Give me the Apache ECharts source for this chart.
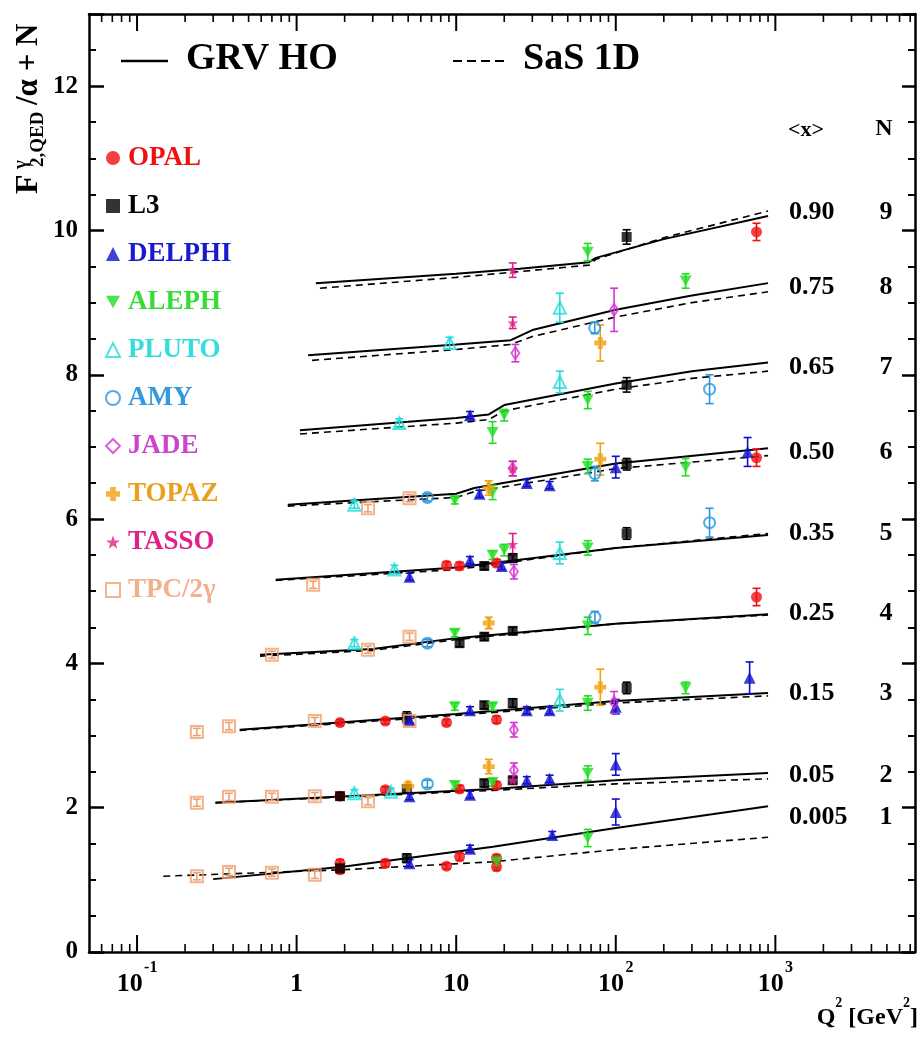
<!DOCTYPE html>
<html><head><meta charset="utf-8">
<script src="https://cdn.jsdelivr.net/npm/echarts@6/dist/echarts.min.js"></script>
<style>html,body{margin:0;padding:0;background:#fff}#c{width:923px;height:1039px}</style>
</head><body><div id="c"></div>
<script>
const FONT = "'Liberation Serif','Times New Roman',serif";

// ---------- data ----------
const experiments = ['OPAL','L3','DELPHI','ALEPH','PLUTO','AMY','JADE','TOPAZ','TASSO','TPC/2γ'];
// [Q2, F2/alpha + N, error]
const opal = [[762,9.98,0.12],[762,6.85,0.12],[762,4.92,0.12],
  [8.7,5.36,0.05],[10.5,5.35,0.05],[17.9,5.39,0.05],
  [1.87,3.18,0.04],[3.6,3.2,0.04],[8.7,3.18,0.04],[17.9,3.22,0.05],
  [1.87,2.16,0.04],[3.6,2.25,0.04],[10.5,2.26,0.05],[17.9,2.31,0.05],
  [1.87,1.23,0.05],[1.87,1.14,0.05],[3.6,1.23,0.05],[8.7,1.19,0.04],[10.5,1.32,0.05],[17.9,1.3,0.05],[17.9,1.18,0.05]];
const l3 = [[117,9.91,0.1],[117,7.86,0.1],[117,6.76,0.08],
  [15,5.35,0.05],[22.6,5.46,0.06],[117,5.8,0.08],
  [10.5,4.28,0.05],[15,4.37,0.05],[22.6,4.45,0.05],
  [4.9,3.25,0.08],[15,3.42,0.05],[22.6,3.45,0.06],[117,3.66,0.08],
  [1.87,2.16,0.05],[4.9,2.26,0.05],[15,2.34,0.05],[22.6,2.38,0.05],
  [1.87,1.16,0.05],[4.9,1.30,0.06]];
const delphi = [[12.2,7.44,0.05],
  [14,6.35,0.05],[27.7,6.5,0.05],[38.5,6.47,0.05],[100,6.72,0.15],[670,6.93,0.2],
  [5.1,5.2,0.05],[12.2,5.43,0.05],[19.3,5.35,0.05],
  [5.1,3.22,0.05],[12.2,3.35,0.05],[27.7,3.35,0.05],[38.5,3.35,0.05],[100,3.4,0.1],[690,3.8,0.22],
  [5.1,2.16,0.05],[12.2,2.18,0.05],[27.7,2.38,0.05],[38.5,2.4,0.05],[100,2.6,0.15],
  [5.1,1.23,0.05],[12.2,1.43,0.05],[40,1.62,0.05],[100,1.94,0.18]];
const aleph = [[66.7,9.7,0.12],[274,9.3,0.1],
  [16.9,7.2,0.15],[20,7.44,0.08],[66.7,7.65,0.12],
  [9.8,6.26,0.05],[16.9,6.37,0.1],[66.7,6.73,0.1],[274,6.72,0.12],
  [16.9,5.5,0.06],[20,5.57,0.08],[66.7,5.6,0.1],
  [9.8,4.42,0.05],[66.7,4.52,0.12],
  [9.8,3.4,0.05],[16.9,3.4,0.05],[66.7,3.45,0.1],[274,3.66,0.08],
  [9.8,2.31,0.05],[16.9,2.35,0.05],[66.7,2.48,0.1],
  [17.9,1.25,0.08],[66.7,1.58,0.12]];
const pluto = [[9.1,8.44,0.08],[44.6,8.93,0.2],
  [4.4,7.33,0.06],[44.6,7.9,0.15],
  [2.3,6.2,0.05],
  [4.1,5.3,0.06],[44.6,5.53,0.15],
  [2.3,4.28,0.05],
  [44.6,3.49,0.15],
  [2.3,2.2,0.05],[3.9,2.22,0.05]];
const amy = [[73.8,8.65,0.08],[387,7.8,0.2],
  [6.6,6.3,0.05],[74,6.63,0.1],[387,5.95,0.2],
  [6.6,4.28,0.05],[74,4.64,0.08],[6.6,2.33,0.05]];
const jade = [[23.5,8.3,0.12],[97.6,8.9,0.3],[22.6,6.7,0.1],[23,5.27,0.1],
  [23,3.08,0.1],[97.6,3.46,0.15],[23,2.52,0.1]];
const topaz = [[80,8.44,0.25],[16,6.43,0.1],[80,6.83,0.22],[16,4.56,0.08],
  [80,3.67,0.25],[16,2.57,0.1],[5,2.3,0.05]];
const tasso = [[22.6,9.45,0.1],[22.6,8.72,0.08],[22.6,6.7,0.1],[22.6,5.65,0.15],[22.6,2.38,0.05]];
const tpc = [[2.8,6.15,0.05],[5.1,6.29,0.05],
  [1.27,5.09,0.05],
  [0.7,4.12,0.05],[2.8,4.19,0.05],[5.1,4.37,0.05],
  [0.237,3.05,0.05],[0.377,3.13,0.05],[1.3,3.2,0.05],[5.1,3.2,0.05],
  [0.237,2.07,0.05],[0.377,2.15,0.05],[0.7,2.15,0.05],[1.3,2.16,0.05],[2.8,2.09,0.05],
  [0.237,1.05,0.05],[0.377,1.11,0.05],[0.7,1.1,0.05],[1.3,1.07,0.05]];

// theory curves [Q2, value]
const grv9 = [[1.32,9.27],[10,9.40],[25,9.47],[68,9.56],[75,9.62],[200,9.88],[900,10.2]];
const sas9 = [[1.4,9.2],[10,9.35],[25,9.43],[68,9.52],[75,9.6],[200,9.9],[900,10.27]];
const grv8 = [[1.18,8.27],[10,8.42],[22,8.48],[30,8.62],[100,8.9],[300,9.1],[900,9.27]];
const sas8 = [[1.25,8.2],[10,8.35],[22,8.42],[30,8.53],[100,8.8],[300,9.0],[900,9.15]];
const grv7 = [[1.05,7.23],[10,7.4],[16,7.45],[20,7.58],[100,7.88],[300,8.05],[900,8.17]];
const sas7 = [[1.05,7.18],[10,7.33],[16,7.38],[20,7.5],[100,7.8],[300,7.95],[900,8.05]];
const grv6 = [[0.88,6.2],[10,6.35],[13,6.43],[100,6.77],[900,6.98]];
const sas6 = [[0.88,6.18],[10,6.3],[13,6.38],[100,6.7],[900,6.88]];
const grv5 = [[0.74,5.16],[10,5.33],[100,5.6],[900,5.78]];
const sas5 = [[0.74,5.15],[10,5.3],[100,5.6],[900,5.8]];
const grv4 = [[0.59,4.12],[3,4.2],[10,4.35],[100,4.55],[900,4.68]];
const sas4 = [[0.59,4.1],[3,4.18],[10,4.33],[100,4.55],[900,4.67]];
const grv3 = [[0.44,3.08],[10,3.3],[100,3.48],[900,3.59]];
const sas3 = [[0.44,3.07],[10,3.28],[100,3.45],[900,3.55]];
const grv2 = [[0.31,2.07],[17,2.26],[100,2.38],[900,2.48]];
const sas2 = [[0.31,2.07],[17,2.24],[100,2.33],[900,2.4]];
const grv1 = [[0.3,1.01],[1.95,1.18],[17,1.46],[100,1.72],[900,2.02]];
const sas1 = [[0.146,1.05],[1.95,1.14],[17,1.25],[100,1.42],[900,1.59]];

const xLabelsRight = ['0.90','0.75','0.65','0.50','0.35','0.25','0.15','0.05','0.005'];
const nLabelsRight = ['9','8','7','6','5','4','3','2','1'];
const majorDecades = [0.1,1,10,100,1000];
const minorMantissas = [2,3,4,5,6,7,8,9];

// ---------- styling ----------
const expData = [opal,l3,delphi,aleph,pluto,amy,jade,topaz,tasso,tpc];
const expColor = ['#ee1111','#000000','#1111cc','#22dd22','#22dddd','#2a96dc','#d633d6','#f0a010','#e0208a','#f0a070'];
const textColor = ['#ee1111','#000000','#1a1acc','#33dd33','#33dddd','#3399dd','#cc44cc','#e8a020','#dd2288','#f3b08a'];
const DOWN = 'path://M0,0 L10,0 L5,9 Z';
const CROSS = 'path://M3,0 H7 V3 H10 V7 H7 V10 H3 V7 H0 V3 H3 Z';
const STAR = 'path://M5,0 L6.2,3.6 L10,3.6 L7,5.9 L8.1,9.5 L5,7.3 L1.9,9.5 L3,5.9 L0,3.6 L3.8,3.6 Z';
const sym = [
  {symbol:'circle', size:11, open:false},
  {symbol:'rect', size:10, open:false},
  {symbol:'triangle', size:12, open:false},
  {symbol:DOWN, size:12, open:false},
  {symbol:'triangle', size:12, open:true},
  {symbol:'circle', size:11, open:true},
  {symbol:'diamond', size:[8,12], open:true},
  {symbol:CROSS, size:12, open:false},
  {symbol:STAR, size:11, open:false},
  {symbol:'rect', size:12, open:true}
];

const series = [];
const curves = [[grv9,sas9],[grv8,sas8],[grv7,sas7],[grv6,sas6],[grv5,sas5],[grv4,sas4],[grv3,sas3],[grv2,sas2],[grv1,sas1]];
curves.forEach((c,i) => {
  series.push({type:'line', name:'grv'+i, data:c[0], symbol:'none', silent:true, z:2,
    lineStyle:{color:'#000', width:2}});
  series.push({type:'line', name:'sas'+i, data:c[1], symbol:'none', silent:true, z:2,
    lineStyle:{color:'#000', width:1.6, type:[7,5]}});
});

expData.forEach((d,i) => {
  const color = expColor[i];
  series.push({type:'custom', name:experiments[i]+'_err', silent:true, z:3,
    data: d.map(p => [p[0], p[1]-p[2], p[1]+p[2]]),
    encode:{x:0, y:[1,2]},
    renderItem:(params, api) => {
      const lo = api.coord([api.value(0), api.value(1)]);
      const hi = api.coord([api.value(0), api.value(2)]);
      const cw = 4, st = {stroke:color, lineWidth:1.6};
      return {type:'group', children:[
        {type:'line', shape:{x1:lo[0],y1:lo[1],x2:hi[0],y2:hi[1]}, style:st},
        {type:'line', shape:{x1:lo[0]-cw,y1:lo[1],x2:lo[0]+cw,y2:lo[1]}, style:st},
        {type:'line', shape:{x1:hi[0]-cw,y1:hi[1],x2:hi[0]+cw,y2:hi[1]}, style:st}
      ]};
    }});
  const s = sym[i];
  series.push({type:'scatter', name:experiments[i], z:4,
    data: d.map(p => [p[0], p[1]]),
    symbol:s.symbol, symbolSize:s.size, symbolKeepAspect:true,
    itemStyle: s.open ? {color:'rgba(255,255,255,0)', borderColor:color, borderWidth:2}
                      : {color:color, borderWidth:0},
    emphasis:{disabled:true}});
});

// x axis tick marks (log minor + major) drawn through the axis scale
const tickVals = [];
[0.01,0.1,1,10,100,1000].forEach(dec => {
  minorMantissas.forEach(m => { const v = dec*m; if (v > 0.05 && v < 7500) tickVals.push([v,0]); });
});
majorDecades.forEach(v => tickVals.push([v,1]));
series.push({type:'custom', name:'xticks', silent:true, z:5, clip:false,
  data: tickVals,
  encode:{x:0},
  renderItem:(params, api) => {
    const v = api.value(0), major = api.value(1) === 1;
    const b = api.coord([v, 0]), t = api.coord([v, 13]);
    const len = major ? 17 : 8;
    const st = {stroke:'#000', lineWidth: major ? 2 : 1.6};
    return {type:'group', children:[
      {type:'line', shape:{x1:b[0],y1:b[1],x2:b[0],y2:b[1]-len}, style:st},
      {type:'line', shape:{x1:t[0],y1:t[1],x2:t[0],y2:t[1]+len}, style:st}
    ]};
  }});

const axisLineStyle = {color:'#000', width:2.5};
const labelY = [212,287,367,452,533,613,693,775,817];
const option = {
  animation:false,
  backgroundColor:'#fff',
  grid:{left:89, top:14, right:8, bottom:87, containLabel:false},
  xAxis:[
    {type:'log', logBase:10, min:0.05, max:7500, position:'bottom',
     axisLine:{show:true, onZero:false, lineStyle:axisLineStyle},
     axisTick:{show:false}, splitLine:{show:false}, minorTick:{show:false},
     axisLabel:{margin:8, color:'#000', showMinLabel:false, showMaxLabel:false,
       formatter: v => {
         const e = Math.log10(v);
         if (Math.abs(e - Math.round(e)) > 1e-6) return '';
         const r = Math.round(e);
         if (r === 0) return '{b|1}';
         if (r === 1) return '{b|10}';
         return '{b|10}{g| }{s|' + r + '}';
       },
       rich:{
         b:{fontFamily:FONT, fontWeight:'bold', fontSize:26, lineHeight:48, color:'#000'},
         g:{fontSize:5, lineHeight:48},
         s:{fontFamily:FONT, fontWeight:'bold', fontSize:16, lineHeight:16, verticalAlign:'top', color:'#000'}
       }}},
    {type:'log', logBase:10, min:0.05, max:7500, position:'top',
     axisLine:{show:true, onZero:false, lineStyle:axisLineStyle},
     axisTick:{show:false}, splitLine:{show:false}, axisLabel:{show:false}}
  ],
  yAxis:[
    {type:'value', min:0, max:13, interval:2, position:'left',
     axisLine:{show:true, onZero:false, lineStyle:axisLineStyle},
     axisTick:{show:true, inside:true, length:15, lineStyle:{color:'#000', width:2.5}},
     minorTick:{show:true, splitNumber:4, length:7, lineStyle:{color:'#000', width:2}},
     splitLine:{show:false}, minorSplitLine:{show:false},
     axisLabel:{margin:11, color:'#000', fontFamily:FONT, fontWeight:'bold', fontSize:25,
       formatter: v => (v % 2 === 0 ? String(v) : '')}},
    {type:'value', min:0, max:13, interval:2, position:'right',
     axisLine:{show:true, onZero:false, lineStyle:axisLineStyle},
     axisTick:{show:true, inside:true, length:13, lineStyle:{color:'#000', width:2.5}},
     minorTick:{show:true, splitNumber:4, length:7, lineStyle:{color:'#000', width:2}},
     splitLine:{show:false}, axisLabel:{show:false}}
  ],
  legend:{orient:'vertical', left:100, top:139, itemGap:20, itemWidth:14, itemHeight:14,
    selectedMode:false,
    textStyle:{fontFamily:FONT, fontWeight:'bold', fontSize:27, lineHeight:28, padding:[0,0,0,3]},
    data: experiments.map((n,i) => ({name:n, textStyle:{color:textColor[i]}}))},
  series: series,
  graphic: [
    // top legend for curves
    {type:'line', shape:{x1:121,y1:61,x2:168,y2:61}, style:{stroke:'#000', lineWidth:2.5}},
    {type:'text', x:186, y:59, style:{text:'GRV HO', fill:'#000', font:'bold 38px ' + FONT, verticalAlign:'middle'}},
    {type:'line', shape:{x1:453,y1:61,x2:508,y2:61}, style:{stroke:'#000', lineWidth:2, lineDash:[9,5]}},
    {type:'text', x:523, y:59, style:{text:'SaS 1D', fill:'#000', font:'bold 38px ' + FONT, verticalAlign:'middle'}},
    // right column headers
    {type:'text', x:788, y:130, style:{text:'<x>', fill:'#000', font:'bold 22px ' + FONT, verticalAlign:'middle'}},
    {type:'text', x:884, y:129, style:{text:'N', fill:'#000', font:'bold 24px ' + FONT, verticalAlign:'middle', align:'center'}},
    ...xLabelsRight.map((t,i) => ({type:'text', x:789, y:labelY[i],
      style:{text:t, fill:'#000', font:'bold 26px ' + FONT, verticalAlign:'middle'}})),
    ...nLabelsRight.map((t,i) => ({type:'text', x:886, y:labelY[i],
      style:{text:t, fill:'#000', font:'bold 26px ' + FONT, verticalAlign:'middle', align:'center'}})),
    // y-axis title (rotated)
    {type:'group', x:29, y:194, rotation:Math.PI/2, children:[
      {type:'text', x:0, y:0, style:{text:'F', fill:'#000', font:'bold 32px ' + FONT, verticalAlign:'middle'}},
      {type:'text', x:25, y:-8, style:{text:'γ', fill:'#000', font:'bold 19px ' + FONT, verticalAlign:'middle'}},
      {type:'text', x:27, y:9, style:{text:'2,QED', fill:'#000', font:'bold 19px ' + FONT, verticalAlign:'middle'}},
      {type:'text', x:89, y:0, style:{text:'/α + N', fill:'#000', font:'bold 31px ' + FONT, verticalAlign:'middle'}}
    ]},
    // x-axis title
    {type:'text', x:918, y:1018, style:{text:'{m|Q}{s|2}{m| [GeV}{s|2}{m|]}', align:'right', verticalAlign:'middle',
      rich:{m:{fontFamily:FONT, fontWeight:'bold', fontSize:24, lineHeight:44, fill:'#000'},
            s:{fontFamily:FONT, fontWeight:'bold', fontSize:14, lineHeight:14, verticalAlign:'top', fill:'#000'}}}}
  ]
};
const chart = echarts.init(document.getElementById('c'), null, {renderer:'canvas'});
chart.setOption(option);
</script>
</body></html>
